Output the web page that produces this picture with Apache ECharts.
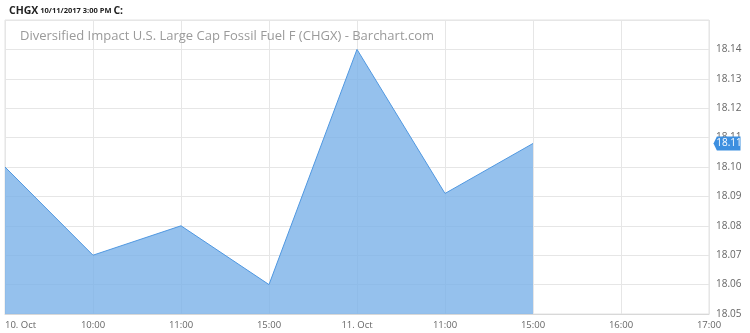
<!DOCTYPE html>
<html><head><meta charset="utf-8">
<script src="https://cdn.jsdelivr.net/npm/echarts@6/dist/echarts.min.js"></script>
<style>html,body{margin:0;padding:0;background:#fff}#c{width:750px;height:333px}</style>
</head><body><div id="c"></div>
<script>
const categories = ["10. Oct","10:00","11:00","15:00","11. Oct","11:00","15:00","16:00","17:00"];
const prices = [18.10, 18.07, 18.08, 18.06, 18.14, 18.091, 18.108, null, null];
const lastValue = 18.108;
const lastLabel = "18.11";
const yTicks = {min: 18.05, max: 18.15, interval: 0.01};
const titleText = "Diversified Impact U.S. Large Cap Fossil Fuel F (CHGX) - Barchart.com";

const chart = echarts.init(document.getElementById('c'), null, {renderer:'canvas'});
chart.setOption({
  animation:false,
  textStyle:{fontFamily:'"Open Sans", sans-serif'},
  title:[{
    text:'{b|CHGX}{n| 10/11/2017 3:00 PM }{b|C:}',
    left:4, top:0,
    textStyle:{fontSize:8, lineHeight:12, rich:{
      b:{fontSize:10.5, fontWeight:'bold', color:'#222', fontFamily:'"Open Sans", sans-serif'},
      n:{fontSize:7.5, color:'#222', fontFamily:'"Open Sans", sans-serif'}
    }}
  },{
    text:titleText, left:15, top:25,
    textStyle:{fontSize:13, fontWeight:'normal', color:'#9a9a9a', fontFamily:'"Open Sans", sans-serif'}
  }],
  grid:{left:5, right:41, top:20, bottom:19, show:true, borderColor:'#e3e3e3', borderWidth:1},
  xAxis:{
    type:'category', data:categories, boundaryGap:false,
    axisLine:{show:true, lineStyle:{color:'#d8d8d8'}},
    axisTick:{show:false},
    axisLabel:{color:'#666', fontSize:9.5, margin:6, interval:0, alignMinLabel:'left', alignMaxLabel:'center'},
    splitLine:{show:true, interval:0, lineStyle:{color:'#e6e6e6'}}
  },
  yAxis:{
    type:'value', position:'right', min:yTicks.min, max:yTicks.max, interval:yTicks.interval,
    axisLine:{show:false}, axisTick:{show:false},
    axisLabel:{color:'#666', fontSize:10, margin:7, showMaxLabel:false,
      formatter:v=>v.toFixed(2)},
    splitLine:{lineStyle:{color:'#e6e6e6'}}
  },
  series:[{
    type:'line', data:prices, symbol:'none', connectNulls:false,
    lineStyle:{color:'#4f97e0', width:1},
    areaStyle:{color:'rgba(122,178,233,0.8)', opacity:1},
    markPoint:{
      silent:true,
      symbol:'path://M0,5 L5,0 L40,0 L40,10 L5,10 Z',
      symbolSize:[27,14],
      symbolKeepAspect:false,
      symbolOffset:[18,0],
      itemStyle:{color:'#3d8fe0'},
      label:{show:true, color:'#fff', fontSize:10, offset:[2,0], formatter:()=>lastLabel},
      data:[{coord:[8, lastValue], value:lastValue}]
    }
  }]
});
</script></body></html>
